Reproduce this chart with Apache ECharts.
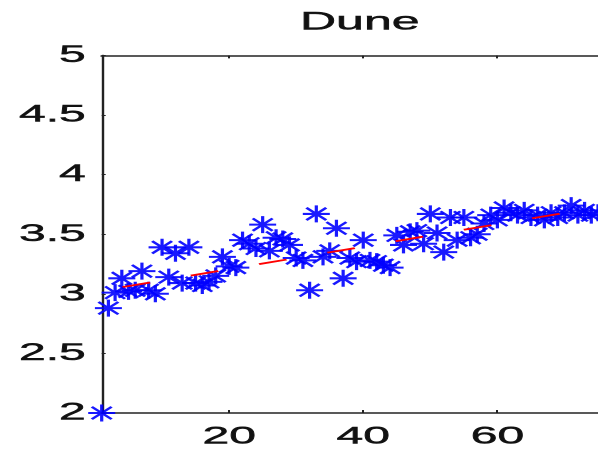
<!DOCTYPE html>
<html>
<head>
<meta charset="utf-8">
<script src="https://cdn.jsdelivr.net/npm/echarts@6/dist/echarts.min.js"></script>
<style>
html,body{margin:0;padding:0;background:#fff;overflow:hidden;width:598px;height:451px;}
#c{width:299px;height:451px;transform:scaleX(2);transform-origin:0 0;}
</style>
</head>
<body>
<div id="c"></div>
<script>
// Data
var titleText = 'Dune';
var xValues = [];
for (var i = 1; i <= 75; i++) xValues.push(i);
var yValues = [
  2.00, 2.88, 3.01, 3.13, 3.02, 3.03, 3.19, 3.03, 3.00, 3.39,
  3.14, 3.34, 3.09, 3.39, 3.09, 3.07, 3.10, 3.15, 3.31, 3.23,
  3.22, 3.45, 3.42, 3.38, 3.58, 3.36, 3.47, 3.46, 3.41, 3.30,
  3.28, 3.03, 3.67, 3.31, 3.36, 3.55, 3.13, 3.30, 3.27, 3.45,
  3.28, 3.27, 3.24, 3.22, 3.49, 3.41, 3.52, 3.53, 3.42, 3.67,
  3.51, 3.35, 3.64, 3.45, 3.64, 3.47, 3.50, 3.59, 3.66, 3.62,
  3.72, 3.68, 3.66, 3.70, 3.64, 3.66, 3.62, 3.68, 3.64, 3.68,
  3.74, 3.66, 3.70, 3.66, 3.68
];
var trendX = [1, 75];
var trendY = [3.027, 3.726];
var xTickValues = [20, 40, 60];
var yTickLabels = ['2', '2.5', '3', '3.5', '4', '4.5', '5'];

var points = xValues.map(function (x, i) { return [x, yValues[i]]; });
var trend = trendX.map(function (x, i) { return [x, trendY[i]]; });

var font = 'Liberation Sans, Arial, Helvetica, sans-serif';
var txt = {fontSize: 24, color: '#111', fontFamily: font, textBorderColor: '#111', textBorderWidth: 0.5};
var chart = echarts.init(document.getElementById('c'), null, {renderer: 'canvas', devicePixelRatio: 2});
chart.setOption({
  animation: false,
  backgroundColor: '#fff',
  title: {
    text: titleText,
    left: 145, top: 5,
    textStyle: {fontSize: 25, fontWeight: 'normal', color: '#111', fontFamily: font, textBorderColor: '#111', textBorderWidth: 0.5}
  },
  grid: {left: 50.85, top: 55.4, width: 257, height: 357.6, containLabel: false},
  xAxis: [{
    type: 'value', min: 1, max: 75, position: 'bottom',
    axisLine: {show: true, onZero: false, lineStyle: {color: '#222', width: 1.5}},
    axisTick: {show: true, inside: true, length: 3, customValues: xTickValues, lineStyle: {color: '#222', width: 1}},
    axisLabel: Object.assign({show: true, margin: 12, customValues: xTickValues}, txt),
    splitLine: {show: false}
  }, {
    type: 'value', min: 1, max: 75, position: 'top',
    axisLine: {show: true, onZero: false, lineStyle: {color: '#222', width: 1.5}},
    axisTick: {show: true, inside: true, length: 3, customValues: xTickValues, lineStyle: {color: '#222', width: 1}},
    axisLabel: {show: false},
    splitLine: {show: false}
  }],
  yAxis: {
    type: 'value', min: 2, max: 5, interval: 0.5,
    axisLine: {show: true, onZero: false, lineStyle: {color: '#222', width: 1.2}},
    axisTick: {show: true, inside: true, length: 2, lineStyle: {color: '#222', width: 1}},
    axisLabel: Object.assign({
      margin: 8,
      formatter: function (v) { return yTickLabels[Math.round((v - 2) / 0.5)]; }
    }, txt),
    splitLine: {show: false}
  },
  series: [{
    type: 'scatter',
    data: points,
    symbol: 'path://M0,8.5L13.5,8.5M6.75,0L6.75,17M1.8,2.3L11.7,14.7M11.7,2.3L1.8,14.7',
    symbolSize: [13.5, 17],
    itemStyle: {color: 'rgba(0,0,0,0)', borderColor: '#0000ff', borderWidth: 1.8, opacity: 0.9},
    emphasis: {disabled: true},
    clip: false,
    z: 2
  }, {
    type: 'line',
    data: trend,
    symbol: 'none',
    lineStyle: {color: '#ff0000', width: 1.8, type: [14.5, 21.5], dashOffset: 25},
    emphasis: {disabled: true},
    z: 3
  }]
});
</script>
</body>
</html>
